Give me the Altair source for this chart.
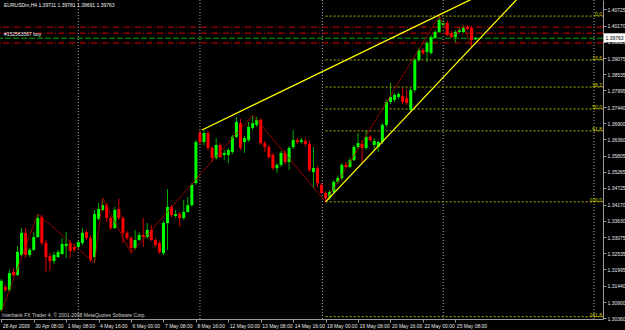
import altair as alt
import pandas as pd

FONT = "Liberation Sans"

# ---------------- data ----------------
opens = [1.3063,1.3140,1.3130,1.3191,1.3181,1.3248,1.3322,1.3248,1.3265,1.3308,
 1.3375,1.3288,1.3244,1.3228,1.3241,1.3251,1.3278,1.3288,1.3275,1.3275,
 1.3288,1.3325,1.3305,1.3241,1.3369,1.3399,1.3415,1.3372,1.3338,1.3402,
 1.3372,1.3322,1.3305,1.3271,1.3298,1.3315,1.3308,1.3332,1.3298,1.3288,
 1.3254,1.3355,1.3409,1.3379,1.3385,1.3372,1.3392,1.3415,1.3489,1.3657,
 1.3627,1.3657,1.3607,1.3573,1.3617,1.3583,1.3583,1.3593,1.3644,1.3690,
 1.3627,1.3633,1.3674,1.3684,1.3701,1.3623,1.3610,1.3583,1.3539,1.3550,
 1.3590,1.3560,1.3610,1.3633,1.3627,1.3630,1.3620,1.3526,1.3539,1.3483,
 1.3456,1.3439,1.3459,1.3493,1.3506,1.3550,1.3543,1.3566,1.3610,1.3620,
 1.3607,1.3644,1.3617,1.3610,1.3627,1.3684,1.3761,1.3768,1.3778,1.3781,
 1.3774,1.3734,1.3801,1.3902,1.3935,1.3929,1.3925,1.3976,1.3996,1.4019,
 1.4026,1.3992,1.3979,1.3996,1.3996,1.4012,1.4009,1.39711]
highs = [1.3167,1.3147,1.3197,1.3204,1.3278,1.3338,1.3338,1.3271,1.3325,1.3385,
 1.3382,1.3298,1.3254,1.3258,1.3265,1.3305,1.3325,1.3298,1.3285,1.3298,
 1.3338,1.3332,1.3311,1.3399,1.3422,1.3439,1.3422,1.3379,1.3409,1.3436,
 1.3379,1.3328,1.3311,1.3332,1.3325,1.3372,1.3355,1.3348,1.3305,1.3295,
 1.3362,1.3469,1.3415,1.3399,1.3392,1.3432,1.3442,1.3489,1.3633,1.3667,
 1.3667,1.3664,1.3613,1.3640,1.3623,1.3600,1.3607,1.3650,1.3711,1.3704,
 1.3647,1.3694,1.3717,1.3711,1.3707,1.3630,1.3617,1.3590,1.3556,1.3597,
 1.3600,1.3613,1.3667,1.3640,1.3640,1.3640,1.3633,1.3610,1.3546,1.3489,
 1.3462,1.3466,1.3499,1.3513,1.3556,1.3560,1.3573,1.3617,1.3657,1.3633,
 1.3667,1.3650,1.3640,1.3633,1.3690,1.3768,1.3825,1.3791,1.3794,1.3808,
 1.3801,1.3808,1.3909,1.3942,1.3942,1.3966,1.3986,1.4002,1.4049,1.4036,
 1.4033,1.3999,1.4002,1.4009,1.4019,1.4019,1.4016,1.39781]
lows = [1.3057,1.3124,1.3124,1.3177,1.3177,1.3244,1.3238,1.3241,1.3261,1.3305,
 1.3281,1.3191,1.3197,1.3218,1.3238,1.3248,1.3238,1.3238,1.3258,1.3265,
 1.3281,1.3298,1.3224,1.3221,1.3365,1.3395,1.3358,1.3332,1.3335,1.3365,
 1.3288,1.3298,1.3254,1.3265,1.3295,1.3275,1.3301,1.3295,1.3275,1.3251,
 1.3248,1.3265,1.3375,1.3372,1.3342,1.3365,1.3389,1.3409,1.3483,1.3620,
 1.3617,1.3600,1.3560,1.3566,1.3573,1.3566,1.3556,1.3586,1.3640,1.3600,
 1.3590,1.3627,1.3667,1.3677,1.3617,1.3593,1.3570,1.3533,1.3523,1.3543,
 1.3553,1.3533,1.3603,1.3620,1.3623,1.3613,1.3526,1.3472,1.3476,1.3452,
 1.3426,1.3432,1.3456,1.3486,1.3499,1.3539,1.3539,1.3563,1.3603,1.3556,
 1.3600,1.3627,1.3600,1.3593,1.3620,1.3677,1.3754,1.3761,1.3771,1.3754,
 1.3751,1.3727,1.3794,1.3895,1.3919,1.3895,1.3919,1.3972,1.3992,1.4012,
 1.3982,1.3976,1.3959,1.3992,1.3992,1.4002,1.3945,1.39691]
closes = [1.3161,1.3130,1.3187,1.3181,1.3258,1.3322,1.3248,1.3265,1.3308,1.3372,
 1.3288,1.3241,1.3228,1.3248,1.3258,1.3285,1.3285,1.3261,1.3265,1.3291,
 1.3322,1.3305,1.3231,1.3385,1.3402,1.3415,1.3372,1.3338,1.3399,1.3372,
 1.3322,1.3305,1.3271,1.3298,1.3315,1.3308,1.3332,1.3298,1.3281,1.3258,
 1.3355,1.3409,1.3382,1.3385,1.3372,1.3392,1.3415,1.3483,1.3627,1.3627,
 1.3657,1.3607,1.3573,1.3617,1.3576,1.3590,1.3600,1.3644,1.3694,1.3607,
 1.3640,1.3677,1.3690,1.3701,1.3623,1.3610,1.3576,1.3539,1.3550,1.3590,
 1.3560,1.3607,1.3633,1.3627,1.3633,1.3620,1.3533,1.3539,1.3489,1.3456,
 1.3439,1.3459,1.3493,1.3506,1.3550,1.3543,1.3566,1.3610,1.3623,1.3607,
 1.3644,1.3633,1.3630,1.3627,1.3684,1.3761,1.3778,1.3784,1.3788,1.3761,
 1.3758,1.3801,1.3902,1.3935,1.3925,1.3959,1.3979,1.3996,1.4036,1.4026,
 1.3986,1.3979,1.3996,1.4002,1.4009,1.4006,1.3969,1.39763]
bars = list(range(len(opens)))

tick_bars = [0, 8, 16, 24, 32, 40, 48, 56, 64, 72, 80, 88, 96, 104, 112]
tick_labels = ["28 Apr 2009", "30 Apr 08:00", "1 May 08:00", "4 May 16:00",
               "6 May 00:00", "7 May 08:00", "8 May 16:00", "12 May 00:00",
               "13 May 08:00", "14 May 16:00", "18 May 00:00", "19 May 08:00",
               "20 May 16:00", "22 May 00:00", "25 May 08:00"]
price_ticks = [1.40725, 1.40170, 1.39625, 1.39075, 1.38535, 1.37995, 1.37440,
               1.36900, 1.36360, 1.35805, 1.35265, 1.34725, 1.34170, 1.33630,
               1.33075, 1.32535, 1.31995, 1.31440, 1.30900, 1.30360]

zz_bars = [0, 9, 23, 25, 32, 62, 80, 108, 111, 114, 116]
zz_prices = [1.3057, 1.3385, 1.3221, 1.3439, 1.3254, 1.3717, 1.3426, 1.4049,
             1.3976, 1.4019, 1.3945]

trend_ids = ["upper", "upper", "lower", "lower"]
trend_bars = [49.5, 125, 80, 135]
trend_prices = [1.3667, 1.4165, 1.3426, 1.4218]

fib_high = 1.4049
fib_low = 1.3426
fib_start_bar = 80
fib_ratios = [0.0, 0.236, 0.382, 0.5, 0.618, 1.0, 1.618]
fib_names = ["0.0", "23.6", "38.2", "50.0", "61.8", "100.0", "161.8"]

order_red_prices = [1.4012, 1.3992, 1.3959]
order_green_prices = [1.3975]
separator_bars = [19, 49, 79.2, 109, 146.2]

title_text = "EURUSDm,H4  1.39711 1.39781 1.39691 1.39763"
order_text = "#152563567 buy"
copyright_text = "Interbank FX Trader 4, \u00a9 2001-2008 MetaQuotes Software Corp."

# ---------------- tables ----------------
df = pd.DataFrame({"i": bars, "open": opens, "high": highs, "low": lows, "close": closes})
zz = pd.DataFrame({"i": zz_bars, "price": zz_prices})
tr = pd.DataFrame({"line": trend_ids, "i": trend_bars, "price": trend_prices})

X_DOMAIN = [-0.32, 148.42]
Y_DOMAIN = [1.30331, 1.41030]

fib = pd.DataFrame({
    "name": fib_names,
    "price": [fib_high - r * (fib_high - fib_low) for r in fib_ratios],
    "start": [fib_start_bar] * len(fib_names),
    "end": [X_DOMAIN[1]] * len(fib_names),
})
reds = pd.DataFrame({"price": order_red_prices})
greens = pd.DataFrame({"price": order_green_prices})
seps = pd.DataFrame({"i": separator_bars})
last = pd.DataFrame({"p": [closes[-1]]})

x_scale = alt.Scale(domain=X_DOMAIN, nice=False, zero=False)
y_scale = alt.Scale(domain=Y_DOMAIN, nice=False, zero=False)

expr = ""
for b, lab in zip(tick_bars, tick_labels):
    expr += f"datum.value == {b} ? '{lab}' : "
expr += "''"

LABEL_COL = "#e8e8e8"
AXIS_COL = "#9a9a9a"

x_axis = alt.Axis(values=tick_bars, labelExpr=expr, labelAlign="left", labelBaseline="top",
                  labelPadding=1, labelOffset=1, labelFontSize=5, labelFont=FONT,
                  labelColor=LABEL_COL, tickColor=AXIS_COL, tickSize=3, domainColor=AXIS_COL,
                  grid=False, title=None, labelOverlap=False, labelFlush=False, labelBound=False)
y_axis = alt.Axis(orient="right", values=price_ticks, format=".5f", labelFontSize=5,
                  labelFont=FONT, labelColor=LABEL_COL, tickColor=AXIS_COL, tickSize=3,
                  labelPadding=1, domainColor=AXIS_COL, grid=False, title=None,
                  labelOverlap=False, labelFlush=False, labelBound=False)

X = lambda f: alt.X(f, scale=x_scale, axis=x_axis)
Y = lambda f: alt.Y(f, scale=y_scale, axis=y_axis)

up = "datum.close >= datum.open"

wicks = alt.Chart(df).mark_rule(strokeWidth=1).encode(
    x=X("i:Q"), y=Y("low:Q"), y2="high:Q",
    color=alt.condition(up, alt.value("#00b000"), alt.value("#e00000")),
)
bodies = alt.Chart(df).mark_rule(strokeWidth=3).encode(
    x=X("i:Q"), y=Y("open:Q"), y2="close:Q",
    color=alt.condition(up, alt.value("#00ff00"), alt.value("#ff0000")),
)

sep_layer = alt.Chart(seps).mark_rule(color="#a8a8a8", strokeDash=[1, 2], strokeWidth=1).encode(
    x=X("i:Q"))
fib_lines = alt.Chart(fib).mark_rule(color="#b4b400", strokeDash=[2, 2], strokeWidth=1).encode(
    x=X("start:Q"), x2="end:Q", y=Y("price:Q"))
fib_text = alt.Chart(fib).mark_text(align="right", baseline="bottom", dy=1, color="#d8d800",
                                    fontSize=5, font=FONT).encode(
    x=alt.value(602), y=Y("price:Q"), text="name:N")
red_lines = alt.Chart(reds).mark_rule(color="#d00000", strokeDash=[6, 2, 1, 2], strokeWidth=1).encode(
    y=Y("price:Q"))
green_lines = alt.Chart(greens).mark_rule(color="#00b000", strokeDash=[6, 2], strokeWidth=1).encode(
    y=Y("price:Q"))
zigzag = alt.Chart(zz).mark_line(color="#b00000", strokeWidth=0.8).encode(
    x=X("i:Q"), y=Y("price:Q"), order="i:Q")
trend = alt.Chart(tr).mark_line(color="#ffff00", strokeWidth=1.3, clip=True).encode(
    x=X("i:Q"), y=Y("price:Q"), detail="line:N")

def label(text, x, y, color, align="left"):
    return alt.Chart(pd.DataFrame({"t": [text]})).mark_text(
        align=align, baseline="middle", color=color, fontSize=5, font=FONT
    ).encode(x=alt.value(x), y=alt.value(y), text="t:N")

title_layer = label(title_text, 4, 5, "#f0f0f0")
order_layer = label(order_text, 4, 33.5, "#f0f0f0")
copy_layer = label(copyright_text, 2, 314.5, "#d0d0d0")

price_box = alt.Chart(last).mark_rule(color="white", strokeWidth=9).encode(
    x=alt.value(604), x2=alt.value(625), y=Y("p:Q"))
price_text = alt.Chart(last).mark_text(align="left", baseline="middle", color="black",
                                       fontSize=5, font=FONT).encode(
    x=alt.value(605.5), y=Y("p:Q"), text=alt.Text("p:Q", format=".5f"))

chart = alt.layer(
    wicks, sep_layer, fib_lines, red_lines, green_lines, bodies, zigzag, trend,
    fib_text, title_layer, order_layer, copy_layer, price_box, price_text,
).properties(
    width=603, height=319, autosize="none",
    padding={"left": 0, "top": 0, "right": 22, "bottom": 11},
).configure(background="black").configure_view(stroke=None)

chart.save("out.html", embed_options={"renderer": "svg", "actions": False})
